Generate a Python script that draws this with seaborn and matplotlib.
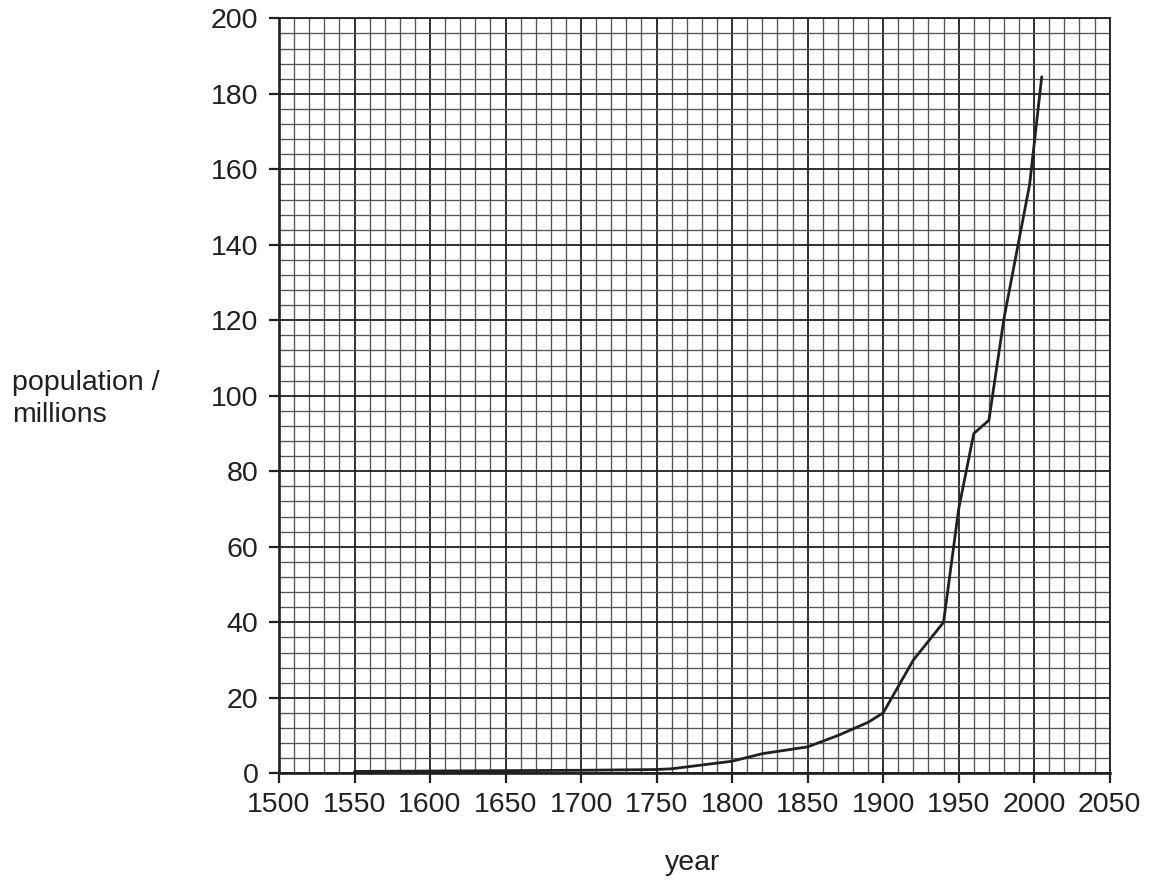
import matplotlib
matplotlib.use("Agg")
import matplotlib.pyplot as plt
from matplotlib.ticker import MultipleLocator
import seaborn as sns
import pandas as pd

# valores
years = [1550, 1600, 1650, 1700, 1750, 1760, 1800, 1820, 1850, 1870,
         1890, 1900, 1920, 1940, 1950, 1960, 1970, 1980, 1997, 2005]
population = [0.5, 0.6, 0.7, 0.8, 1.0, 1.2, 3.2, 5.2, 7.0, 10.0,
              13.5, 16.0, 30.0, 40.0, 70.0, 90.0, 93.5, 120.5, 156.0, 184.5]
x_ticks = list(range(1500, 2051, 50))
y_ticks = list(range(0, 201, 20))

df = pd.DataFrame({"year": years, "population": population})

sns.set_style("white")
plt.rcParams["font.family"] = ["Liberation Sans", "DejaVu Sans"]

ink = "#231f20"

fig = plt.figure(figsize=(11.49, 8.82), dpi=100)
ax = fig.add_axes([279 / 1149, 1 - 773.3 / 882, (1109.7 - 279) / 1149, (773.3 - 18.3) / 882])

sns.lineplot(data=df, x="year", y="population", ax=ax, color=ink, linewidth=2.0, zorder=5)

ax.set_xlim(1500, 2050)
ax.set_ylim(0, 200)
ax.set_xticks(x_ticks)
ax.set_yticks(y_ticks)
ax.xaxis.set_minor_locator(MultipleLocator(10))
ax.yaxis.set_minor_locator(MultipleLocator(4))

ax.set_axisbelow(True)
ax.grid(which="minor", color="#555555", linewidth=0.95)
ax.grid(which="major", color=ink, linewidth=1.3)

for side in ["left", "bottom", "top", "right"]:
    ax.spines[side].set_color(ink)
    ax.spines[side].set_linewidth(1.3)
ax.spines["left"].set_linewidth(1.9)
ax.spines["bottom"].set_linewidth(1.9)

ax.tick_params(which="major", direction="out", length=7.5, width=1.6, color=ink,
               labelsize=20.5, labelcolor=ink, left=True, bottom=True)
ax.tick_params(axis="x", pad=6.2)
ax.tick_params(axis="y", pad=7.3)
ax.tick_params(which="minor", length=0)

ax.set_xlabel("")
ax.set_ylabel("")

fig.text(693 / 1149, 1 - 869.5 / 882, "year", ha="center", va="baseline",
         fontsize=20.5, color=ink)
fig.text(11.7 / 1149, 1 - 390 / 882, "population /", ha="left", va="baseline",
         fontsize=20.5, color=ink)
fig.text(11.7 / 1149, 1 - 422.3 / 882, "millions", ha="left", va="baseline",
         fontsize=20.5, color=ink)

fig.savefig("out.png", dpi=100)
